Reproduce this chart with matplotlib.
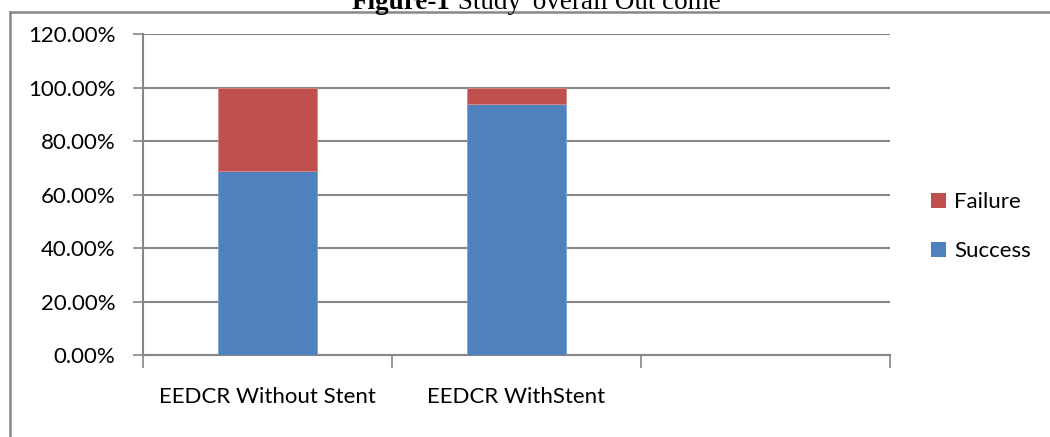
import matplotlib
matplotlib.use("Agg")
import matplotlib.pyplot as plt
from matplotlib.lines import Line2D
from matplotlib.patches import Patch
from matplotlib.ticker import FuncFormatter
from matplotlib.transforms import offset_copy

# data
categories = ["EEDCR Without Stent", "EEDCR WithStent", ""]
success = [68.75, 93.75, 0]
failure = [31.25, 6.25, 0]
series_names = ["Failure", "Success"]

BLUE = "#4F81BD"
RED = "#C0504D"
GRID = "#868686"
FS = 16

plt.rcParams['font.family'] = ['Lato', 'DejaVu Sans']

fig = plt.figure(figsize=(10.5, 4.37), dpi=100)
ax = fig.add_axes([143 / 1050, 1 - 355 / 437, (890 - 143) / 1050, (355 - 34) / 437])

x = list(range(len(categories)))
ax.bar(x[:2], success[:2], width=0.4, color=BLUE, edgecolor="#7FA3D4", linewidth=0.6, zorder=3)
ax.bar(x[:2], failure[:2], width=0.4, bottom=success[:2], color=RED, edgecolor="#D98A88",
       linewidth=0.6, zorder=3)

ax.set_xlim(-0.5, 2.5)
ax.set_ylim(0, 120)
ax.set_yticks(range(0, 121, 20))
ax.yaxis.set_major_formatter(FuncFormatter(lambda v, p: f"{v:.2f}%"))
ax.yaxis.grid(True, color=GRID, linewidth=1.5, zorder=0)

ax.set_xticks([-0.5, 0.5, 1.5, 2.5])
ax.set_xticklabels([])
ax.tick_params(axis='x', direction='out', length=9, width=1.2, color=GRID)
ax.tick_params(axis='y', direction='out', length=7, width=1.2, color=GRID, labelsize=FS, pad=13)

for s in ['top', 'right']:
    ax.spines[s].set_visible(False)
for s in ['left', 'bottom']:
    ax.spines[s].set_color(GRID)
    ax.spines[s].set_linewidth(1.5)

# category labels, centred below each slot
for xi, name in zip(x, categories):
    ax.text(xi, -42 / 321, name, ha='center', va='center', fontsize=FS,
            transform=ax.get_xaxis_transform(), clip_on=False)

handles = [Patch(facecolor=RED, edgecolor='none'), Patch(facecolor=BLUE, edgecolor='none')]
fig.legend(handles, series_names, loc='center left', bbox_to_anchor=(0.887, 0.481),
           frameon=False, fontsize=FS, handlelength=0.68, handleheight=0.68,
           handletextpad=0.35, labelspacing=1.3, borderaxespad=0, borderpad=0)

# outer chart frame (partially cut in the original)
fig.add_artist(Line2D([10 / 1050, 1.0], [1 - 12 / 437, 1 - 12 / 437],
                      color="#888888", linewidth=1.8, transform=fig.transFigure))
fig.add_artist(Line2D([10 / 1050, 10 / 1050], [0, 1 - 12 / 437],
                      color="#888888", linewidth=1.8, transform=fig.transFigure))

# title, cut at the top of the image
t1 = fig.text(352 / 1050, 1 - 9 / 437, "Figure-1", fontsize=19.5, fontweight='bold',
              family='Liberation Serif', ha='left', va='baseline')
fig.canvas.draw()
w = t1.get_window_extent().width
fig.text(352 / 1050, 1 - 9 / 437, " Study' overall Out come", fontsize=19.5,
         family='Liberation Serif', ha='left', va='baseline',
         transform=offset_copy(fig.transFigure, fig=fig, x=w, units='dots'))

fig.savefig("out.png", dpi=100)
